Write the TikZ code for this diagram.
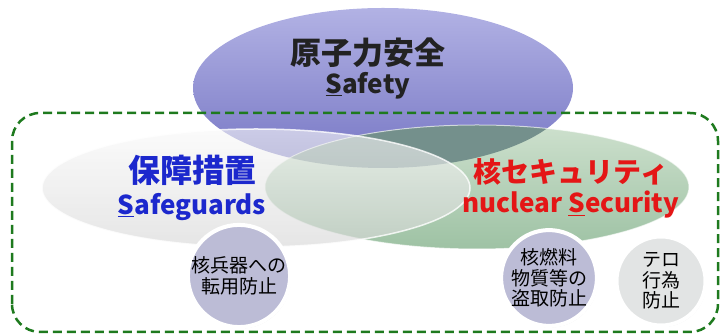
\documentclass[tikz,border=0pt]{standalone}
\usepackage{fontspec}
\setmainfont{Noto Sans CJK JP}
\usetikzlibrary{shadows}
\definecolor{purpT}{RGB}{178,178,228}
\definecolor{purpB}{RGB}{118,118,196}
\definecolor{grnT}{RGB}{205,224,205}
\definecolor{grnB}{RGB}{158,194,164}
\definecolor{pgOver}{RGB}{116,144,140}
\definecolor{greyT}{RGB}{248,248,248}
\definecolor{greyB}{RGB}{214,214,214}
\definecolor{dashgreen}{RGB}{30,122,30}
\definecolor{sgblue}{RGB}{28,40,205}
\definecolor{secred}{RGB}{228,22,22}
\definecolor{titlegrey}{RGB}{34,34,34}
\definecolor{lav}{RGB}{188,188,214}
\definecolor{lgrey}{RGB}{226,228,228}
\begin{document}
\begin{tikzpicture}[x=1pt,y=1pt,
  bigtitle/.style={inner sep=0pt,font=\fontsize{31}{33}\selectfont\bfseries},
  subtitle/.style={inner sep=0pt,font=\fontsize{26}{28}\selectfont\bfseries},
  smallcirc/.style={circle,draw=white,line width=4pt,minimum size=92pt,inner sep=0pt,
     align=center,text=black,font=\fontsize{19}{20.5}\selectfont,
     drop shadow={opacity=0.25,shadow xshift=1pt,shadow yshift=-1.5pt}}]
\useasboundingbox (0,0) rectangle (723,336);
% Safety ellipse
\shade[top color=purpT,bottom color=purpB] (383,248) ellipse [x radius=190,y radius=80];
% nuclear security ellipse
\shade[top color=grnT,bottom color=grnB] (477,149) ellipse [x radius=212,y radius=62];
\begin{scope}
  \clip (477,149) ellipse [x radius=212,y radius=62];
  \fill[pgOver] (383,248) ellipse [x radius=190,y radius=80];
\end{scope}
\draw[white,line width=1pt,opacity=0.6] (477,149) ellipse [x radius=212,y radius=62];
% safeguards ellipse (semi transparent, on top)
\shade[top color=greyT,bottom color=greyB,opacity=0.62] (256,148) ellipse [x radius=214,y radius=59];
\draw[white,line width=1.5pt,opacity=0.8] (256,148) ellipse [x radius=214,y radius=59];
% dashed boundary
\draw[dashgreen,line width=2.5pt,dash pattern=on 9pt off 5pt,rounded corners=28pt]
  (12,4) rectangle (718,223);
% titles
\node[bigtitle,text=titlegrey] (safetyJ) at (368,283) {原子力安全};
\node[subtitle,text=titlegrey] (safetyE) at (368,250) {\underline{S}afety};
\node[bigtitle,text=sgblue,font=\fontsize{32}{34}\selectfont\bfseries] (sgJ) at (192,166) {保障措置};
\node[subtitle,text=sgblue] (sgE) at (192,129) {\underline{S}afeguards};
\node[bigtitle,text=secred,font=\fontsize{28}{30}\selectfont\bfseries] (secJ) at (571,164) {核セキュリティ};
\node[subtitle,text=secred] (secE) at (571,131) {nuclear \underline{S}ecurity};
% small circles
\node[smallcirc,fill=lav] (c1) at (239,60) {核兵器への\\転用防止};
\node[smallcirc,fill=lav] (c2) at (549,58) {核燃料\\物質等の\\盗取防止};
\node[smallcirc,fill=lgrey,minimum size=89pt] (c3) at (661,55) {テロ\\行為\\防止};
\end{tikzpicture}
\end{document}
